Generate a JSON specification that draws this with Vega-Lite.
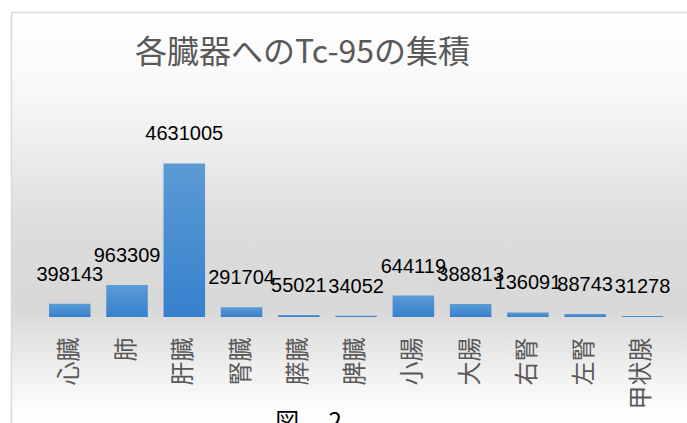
{
  "$schema": "https://vega.github.io/schema/vega-lite/v6.json",
  "autosize": "none",
  "padding": {"left": 11, "top": 12, "right": 0, "bottom": 0},
  "width": 676,
  "height": 411,
  "background": "white",
  "title": {
    "text": "各臓器へのTc-95の集積",
    "anchor": "start",
    "frame": "group",
    "dx": 124,
    "dy": 62,
    "font": "Noto Sans CJK JP",
    "fontSize": 32,
    "fontWeight": "normal",
    "color": "#595959"
  },
  "data": {
    "values": [
      {"organ": "心臓", "value": 398143},
      {"organ": "肺", "value": 963309},
      {"organ": "肝臓", "value": 4631005},
      {"organ": "腎臓", "value": 291704},
      {"organ": "膵臓", "value": 55021},
      {"organ": "脾臓", "value": 34052},
      {"organ": "小腸", "value": 644119},
      {"organ": "大腸", "value": 388813},
      {"organ": "右腎", "value": 136091},
      {"organ": "左腎", "value": 88743},
      {"organ": "甲状腺", "value": 31278}
    ]
  },
  "encoding": {
    "x": {
      "field": "organ",
      "type": "nominal",
      "sort": null,
      "scale": {"paddingInner": 0.275, "paddingOuter": 0.5395, "align": 0.615}
    },
    "y": {
      "field": "value",
      "type": "quantitative",
      "scale": {"domain": [-3200000, 9200000], "nice": false, "zero": false},
      "axis": {
        "orient": "left",
        "labels": false,
        "ticks": false,
        "grid": false,
        "title": null,
        "domain": true,
        "domainColor": "#d9d9d9",
        "domainWidth": 1.5
      }
    }
  },
  "layer": [
    {
      "mark": {
        "type": "bar",
        "fill": {
          "gradient": "linear",
          "x1": 0, "y1": 0, "x2": 0, "y2": 1,
          "stops": [
            {"offset": 0, "color": "#5b9bd6"},
            {"offset": 1, "color": "#3680cc"}
          ]
        }
      },
      "encoding": {
        "x": {
          "field": "organ",
          "type": "nominal",
          "sort": null,
          "axis": {
            "orient": "bottom",
            "offset": -106,
            "domain": false,
            "ticks": false,
            "tickSize": 0,
            "grid": false,
            "labelAngle": -90,
            "labelPadding": 20,
            "labelFont": "Noto Sans CJK JP",
            "labelFontSize": 24,
            "labelColor": "#595959",
            "title": "図　  2",
            "titleFont": "Noto Sans CJK JP",
            "titleFontSize": 24,
            "titleFontWeight": "normal",
            "titleColor": "#000000",
            "titleX": 297,
            "titleY": 93,
            "titleAlign": "center",
            "titleBaseline": "top"
          }
        }
      }
    },
    {
      "mark": {
        "type": "text",
        "font": "Liberation Sans",
        "fontSize": 20,
        "color": "#000000",
        "baseline": "middle",
        "dy": -29
      },
      "encoding": {
        "x": {
          "field": "organ",
          "type": "nominal",
          "sort": null,
          "axis": {
            "orient": "top",
            "labels": false,
            "ticks": false,
            "grid": false,
            "title": null,
            "domain": true,
            "domainColor": "#d9d9d9",
            "domainWidth": 1.5
          }
        },
        "text": {"field": "value", "type": "quantitative", "format": "d"}
      }
    }
  ],
  "resolve": {"axis": {"x": "independent"}},
  "config": {
    "view": {
      "stroke": null,
      "fill": {
        "gradient": "linear",
        "x1": 0, "y1": 0, "x2": 0, "y2": 1,
        "stops": [
          {"offset": 0, "color": "#ffffff"},
          {"offset": 0.2, "color": "#f8f8f8"},
          {"offset": 0.34, "color": "#ececec"},
          {"offset": 0.53, "color": "#dcdcdc"},
          {"offset": 0.72, "color": "#d8d8d8"},
          {"offset": 0.85, "color": "#ececec"},
          {"offset": 0.95, "color": "#fbfbfb"},
          {"offset": 1, "color": "#ffffff"}
        ]
      }
    }
  }
}
